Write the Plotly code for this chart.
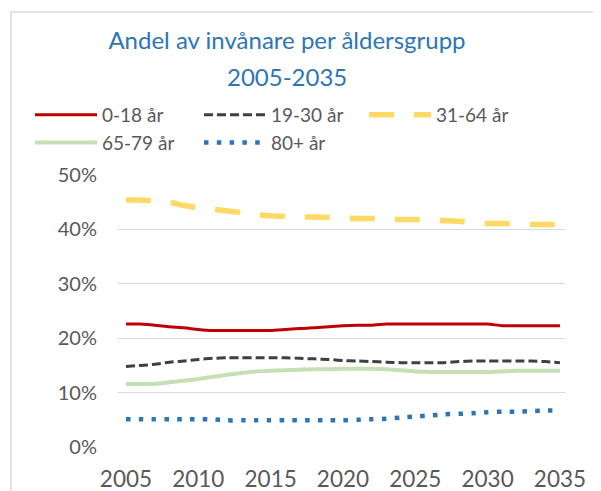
import plotly.graph_objects as go

years = list(range(2005, 2036))

age_0_18 = [22.6, 22.6, 22.4, 22.1, 21.9, 21.6, 21.4, 21.4, 21.4, 21.4, 21.4,
            21.6, 21.8, 21.9, 22.1, 22.3, 22.4, 22.4, 22.6, 22.6, 22.6, 22.6,
            22.6, 22.6, 22.6, 22.6, 22.3, 22.3, 22.3, 22.3, 22.3]
age_19_30 = [14.8, 15.0, 15.2, 15.6, 15.8, 16.1, 16.3, 16.4, 16.4, 16.4, 16.4,
             16.4, 16.3, 16.2, 16.1, 15.9, 15.8, 15.7, 15.6, 15.5, 15.5, 15.5,
             15.5, 15.7, 15.8, 15.8, 15.8, 15.8, 15.8, 15.7, 15.5]
age_31_64 = [45.4, 45.4, 45.2, 45.0, 44.4, 44.0, 43.7, 43.4, 43.1, 42.7, 42.5,
             42.4, 42.3, 42.3, 42.2, 42.1, 42.0, 42.0, 41.9, 41.8, 41.8, 41.7,
             41.6, 41.5, 41.3, 41.1, 41.1, 41.0, 40.9, 40.9, 40.9]
age_65_79 = [11.6, 11.6, 11.6, 11.9, 12.2, 12.5, 12.9, 13.3, 13.6, 13.9, 14.0,
             14.1, 14.2, 14.3, 14.3, 14.4, 14.4, 14.4, 14.3, 14.1, 13.9, 13.8,
             13.8, 13.8, 13.8, 13.8, 13.9, 14.0, 14.0, 14.0, 14.0]
age_80 = [5.1, 5.1, 5.1, 5.1, 5.1, 5.1, 5.1, 4.9, 4.9, 4.9, 4.9,
          4.9, 4.9, 4.9, 4.9, 4.9, 5.0, 5.1, 5.2, 5.4, 5.6, 5.8,
          6.0, 6.1, 6.2, 6.4, 6.5, 6.5, 6.6, 6.7, 6.7]

# name, values, colour, width, dash, legend column
series = [
    ("0-18 år", age_0_18, "#c00000", 3, "solid", "legend"),
    ("19-30 år", age_19_30, "#404040", 3, "9px,4px", "legend2"),
    ("31-64 år", age_31_64, "#ffd966", 5.5, "25px,20px", "legend3"),
    ("65-79 år", age_65_79, "#c5e0b4", 4, "solid", "legend"),
    ("80+ år", age_80, "#2e75b6", 4.5, "4.5px,8.3px", "legend2"),
]

fig = go.Figure()
for name, vals, color, width, dash, leg in series:
    fig.add_trace(go.Scatter(
        x=years, y=[v / 100 for v in vals], name=name, mode="lines", legend=leg,
        line=dict(color=color, width=width, dash=dash, shape="spline", smoothing=0.6)))

# the page body has an 8px margin, so screen positions are figure + 8
OFF = 8
# plot area on screen: x 118..565, y 175..447
PL, PR, PT, PB = 118 - OFF, 565 - OFF, 175 - OFF, 447 - OFF


def px_x(p):
    return (p - OFF - PL) / (PR - PL)


def px_y(p):
    return (PB - (p - OFF)) / (PB - PT)


leg_style = dict(orientation="v", xanchor="left", yanchor="top", itemwidth=62,
                 font=dict(size=19, color="#595959"), tracegroupgap=0,
                 bgcolor="rgba(0,0,0,0)", y=px_y(96))

fig.update_layout(
    width=601, height=491,
    margin=dict(l=PL, r=601 - PR, t=PT, b=491 - PB),
    paper_bgcolor="white", plot_bgcolor="white",
    font=dict(family="Lato", color="#595959"),
    title=dict(text="Andel av invånare per åldersgrupp",
               x=(287 - OFF) / 601, xref="container", xanchor="center",
               y=1 - (42 - OFF - 1) / 491, yref="container", yanchor="middle",
               font=dict(size=24, color="#2e75b6")),
    annotations=[dict(text="2005-2035", xref="paper", yref="paper",
                      x=px_x(287), y=px_y(77), xanchor="center", yanchor="middle",
                      showarrow=False, font=dict(size=24, color="#2e75b6"))],
    showlegend=True,
    legend=dict(leg_style, x=px_x(30)),
    legend2=dict(leg_style, x=px_x(199)),
    legend3=dict(leg_style, x=px_x(364)),
    xaxis=dict(range=[2004.45, 2035.35], tickvals=list(range(2005, 2036, 5)),
               showgrid=False, zeroline=False, showline=False, automargin=False,
               ticks="", ticklabelstandoff=16, tickfont=dict(size=22.5)),
    yaxis=dict(range=[0, 0.5], dtick=0.1, tickformat=".0%", automargin=False,
               showgrid=True, gridcolor="#d9d9d9", gridwidth=1.3,
               zeroline=False, showline=False, ticks="",
               ticklabelstandoff=20, tickfont=dict(size=20)),
    shapes=[dict(type="rect", xref="paper", yref="paper",
                 x0=px_x(11), x1=1.5, y0=-1, y1=px_y(12),
                 line=dict(color="#d9d9d9", width=1.5), layer="below")],
)

fig.write_html("out.html")
